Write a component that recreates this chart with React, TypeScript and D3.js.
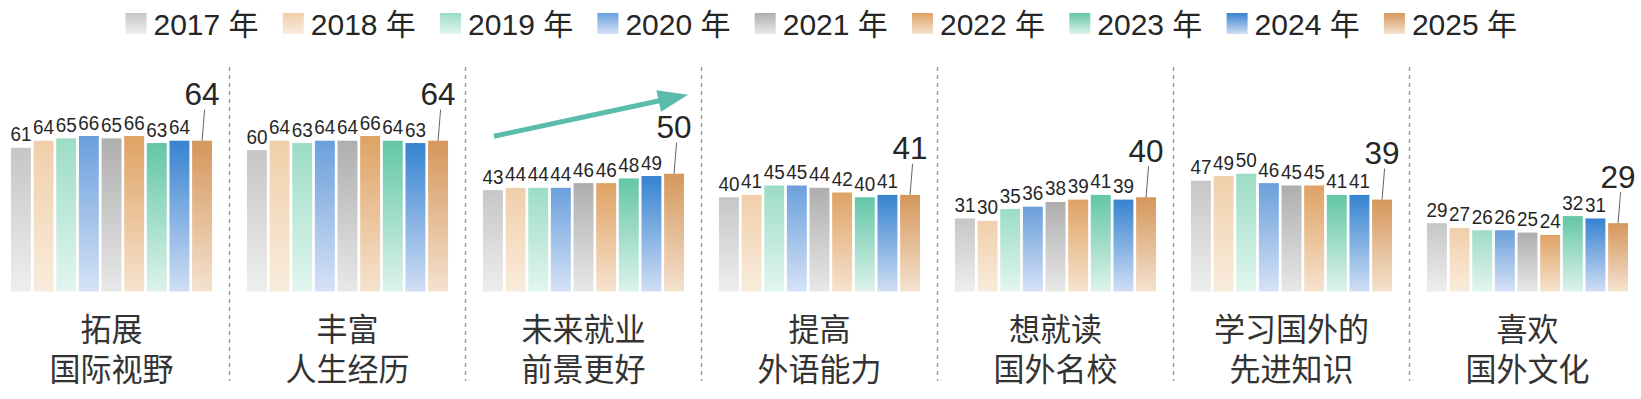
import React from 'react'
import * as d3 from 'd3'

const years = ['2017 年', '2018 年', '2019 年', '2020 年', '2021 年', '2022 年', '2023 年', '2024 年', '2025 年']
const categories = [
  ['拓展', '国际视野'],
  ['丰富', '人生经历'],
  ['未来就业', '前景更好'],
  ['提高', '外语能力'],
  ['想就读', '国外名校'],
  ['学习国外的', '先进知识'],
  ['喜欢', '国外文化'],
]
const values = [
  [61, 64, 65, 66, 65, 66, 63, 64, 64],
  [60, 64, 63, 64, 64, 66, 64, 63, 64],
  [43, 44, 44, 44, 46, 46, 48, 49, 50],
  [40, 41, 45, 45, 44, 42, 40, 41, 41],
  [31, 30, 35, 36, 38, 39, 41, 39, 40],
  [47, 49, 50, 46, 45, 45, 41, 41, 39],
  [29, 27, 26, 26, 25, 24, 32, 31, 29],
]
// top / bottom colour of each year's gradient
const topColors = ['#c6c6c6', '#f0cfa9', '#9cdcc5', '#6b9fdc', '#aeaeae', '#dfa263', '#63c6a7', '#3683d0', '#d5975b']
const bottomColors = ['#eeeeee', '#f9ecdd', '#e2f6ef', '#d5e2f6', '#e8e8e8', '#f6e3cf', '#ddf3eb', '#d0def4', '#f4e2cf']

const W = 1641
const H = 399
const FONT = '"Liberation Sans", Arial, "Noto Sans CJK SC", sans-serif'
const CJK = '"Noto Sans CJK SC", "Liberation Sans", sans-serif'
const SX = 0.9 // small value labels are a little narrow in the original

export default function App() {
  const x0 = d3
    .scaleBand<number>()
    .domain(d3.range(categories.length))
    .range([11 - 17.5, 1628 + 17.5])
    .paddingInner(0.148)
    .paddingOuter(0.074)
  const x1 = d3
    .scaleBand<number>()
    .domain(d3.range(years.length))
    .range([0, x0.bandwidth()])
    .paddingInner(0.12)
  const y = d3.scaleLinear().domain([0, 66]).range([291.5, 136])

  const legendStep = 157.3
  const legendX = 125.5

  // arrow over the 3rd group
  const ag = x0(2)!
  const av = values[2]
  const ax1 = ag + 11
  const ay1 = y(av[0]) - 54
  const ax2 = ag + x0.bandwidth() + 4
  const ay2 = y(av[av.length - 1]) - 79
  const ang = Math.atan2(ay2 - ay1, ax2 - ax1)
  const headLen = 30
  const headW = 11
  const bx = ax2 - headLen * Math.cos(ang)
  const by = ay2 - headLen * Math.sin(ang)
  const px = -Math.sin(ang)
  const py = Math.cos(ang)

  return (
    <svg width={W} height={H} style={{ position: 'absolute', left: 0, top: 0, background: '#fff' }}>
      <defs>
        {years.map((yr, i) => (
          <linearGradient key={yr} id={`g${i}`} x1="0" y1="0" x2="0" y2="1">
            <stop offset="0%" stopColor={topColors[i]} />
            <stop offset="100%" stopColor={bottomColors[i]} />
          </linearGradient>
        ))}
      </defs>

      {/* legend */}
      {years.map((yr, i) => (
        <g key={yr} transform={`translate(${legendX + i * legendStep},13)`}>
          <rect width={21} height={21} fill={`url(#g${i})`} />
          <text x={28} y={21.5} fontSize={30} fontFamily={FONT} fill="#262626">
            {yr}
          </text>
        </g>
      ))}

      {/* dividers */}
      {categories.slice(1).map((_, i) => {
        const xx = (x0(i)! + x0.bandwidth() + x0(i + 1)!) / 2
        return (
          <line
            key={i}
            x1={xx}
            x2={xx}
            y1={67}
            y2={381}
            stroke="#999"
            strokeWidth={1.3}
            strokeDasharray="4 4"
          />
        )
      })}

      {/* groups */}
      {categories.map((cat, gi) => {
        const gx = x0(gi)!
        const vals = values[gi]
        const last = vals.length - 1
        const cx = (i: number) => x1(i)! + x1.bandwidth() / 2
        return (
          <g key={gi} transform={`translate(${gx},0)`}>
            {vals.map((v, i) => (
              <rect
                key={i}
                x={x1(i)}
                y={y(v)}
                width={x1.bandwidth()}
                height={y(0) - y(v)}
                fill={`url(#g${i})`}
              />
            ))}
            {vals.slice(0, last).map((v, i) => (
              <text
                key={i}
                transform={`translate(${cx(i)},${y(v) - 6.5}) scale(${SX},1)`}
                textAnchor="middle"
                fontSize={21}
                fontFamily={FONT}
                fill="#262626"
              >
                {v}
              </text>
            ))}
            <line
              x1={cx(last) + 2.5}
              y1={y(vals[last]) - 31}
              x2={cx(last)}
              y2={y(vals[last])}
              stroke="#666"
              strokeWidth={1}
            />
            <text
              x={cx(last)}
              y={y(vals[last]) - 35.5}
              textAnchor="middle"
              fontSize={31.5}
              fontFamily={FONT}
              fill="#262626"
            >
              {vals[last]}
            </text>
            {cat.map((line, li) => (
              <text
                key={li}
                transform={`translate(${x0.bandwidth() / 2},${341 + li * 40}) scale(0.97,1)`}
                textAnchor="middle"
                fontSize={32}
                fontFamily={CJK}
                fill="#333"
              >
                {line}
              </text>
            ))}
          </g>
        )
      })}

      {/* trend arrow */}
      <line
        x1={ax1}
        y1={ay1}
        x2={bx + 2 * Math.cos(ang)}
        y2={by + 2 * Math.sin(ang)}
        stroke="#5cbcab"
        strokeWidth={5}
      />
      <polygon
        points={`${ax2},${ay2} ${bx + px * headW},${by + py * headW} ${bx - px * headW},${by - py * headW}`}
        fill="#5cbcab"
      />
    </svg>
  )
}
